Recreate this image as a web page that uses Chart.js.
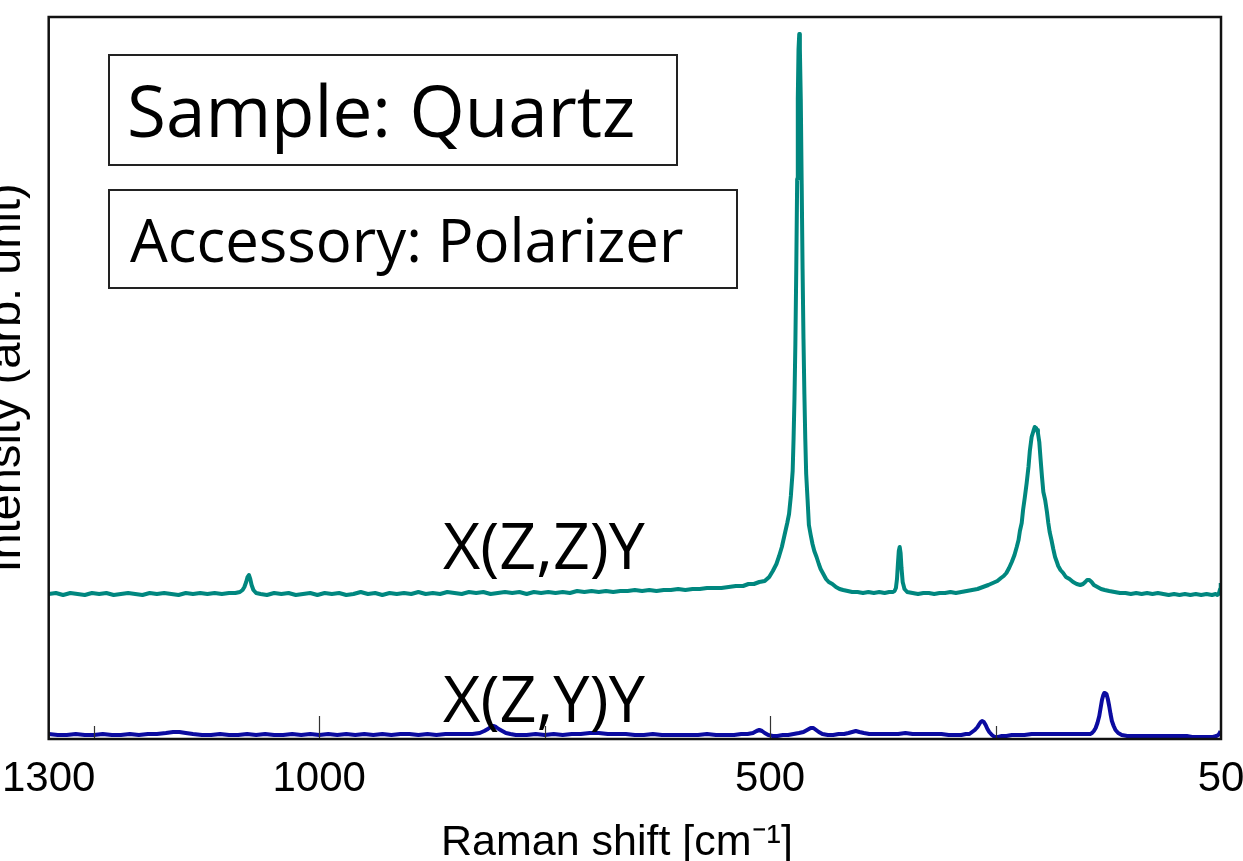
<!DOCTYPE html>
<html><head><meta charset="utf-8">
<script src="https://cdn.jsdelivr.net/npm/chart.js@4.4.1/dist/chart.umd.min.js"></script>
<style>
html,body{margin:0;padding:0;width:1243px;height:861px;overflow:hidden;background:#fff;}
#wrap{position:absolute;left:-31px;top:0;width:1311px;height:861px;}
</style></head><body>
<div id="wrap"><canvas id="c" width="1311" height="861"></canvas></div>
<script>
// ---------- DATA ----------
const zzShift = [1300,1292,1284,1276,1268,1260,1252,1244,1236,1228,1220,1212,1204,1196,1188,1180,1172,1164,1156,1148,1140,1132,1124,1116,1108,1100,1093,1088,1085,1083,1081,1079.5,1078,1076.5,1075,1073,1070,1065,1058,1050,1042,1034,1026,1018,1010,1002,994,986,978,970,962,954,946,938,930,922,914,906,898,890,882,874,866,858,850,842,834,826,818,810,802,794,786,778,770,762,754,746,738,730,722,714,706,698,690,682,674,666,658,650,642,634,626,618,610,602,594,586,578,570,562,554,546,538,530,524,518,512,506,501,497,493,490,487,484,481,479,477,475,474,473,472,471,470,469.3,468.5,467.7,467,466,465,464,463,462,461,460,458.5,457,455,453,451,448.5,446,444,441,438,435,431,427,423,419,414,409,403,397,391,385,379,373,368,364,362,360.5,359.3,358.3,357.3,356.3,355.3,354.3,353,351,348,342,336,330,324,318,312,306,300,294,288,282,276,270,264,258,253,248,244,241,238,235,232,229,226.5,224.5,223,221,219.5,217.5,215.5,213.5,212,210,208,206.5,205,204,203,201.5,200,198.5,197,195,193,191.5,190,188,186,184,182,180.5,178,175,172,168,164,160,156,153,150.5,148.5,146,143.5,141,137,133,129,124,118,112,106,100,94,88,82,76,70,64,58,52,46,40,34,28,22,16,10,6,4,2.5,1,0.3];
const zzIntensity = [145,146,144,146,145,144,146,145,146,144,145,146,145,144,146,145,146,145,144,146,145,146,145,146,145,146,146,147,149,152,157,162,164,160,154,149,146,145,144,146,145,146,144,145,146,144,146,145,146,144,145,147,145,146,144,146,145,146,145,147,145,146,145,147,146,145,147,146,147,145,146,147,146,147,145,147,146,147,146,147,146,148,147,148,147,148,147,148,148,149,148,149,148,149,149,150,149,150,150,151,151,151,152,153,153,155,155,157,158,162,168,175,183,192,204,216,225,243,268,300,340,395,470,560,640,690,705,690,640,555,470,400,345,300,265,240,214,204,195,188,182,175,170,165,160,157,155,152,150,149,148,147,147,146,147,146,147,146,147,147,148,151,160,175,188,192,186,171,157,150,147,146,145,146,146,145,146,146,147,146,147,148,149,150,152,154,156,158,161,163,166,171,177,184,192,199,208,216,229,242,256,272,288,302,308,312,311,309,306,297,279,262,247,239,227,216,207,199,190,182,177,173,169,166,162,160,157,155,154,155,157,159,159,157,154,152,150,149,148,147,146,146,145,146,145,146,145,146,145,144,145,144,145,144,145,144,145,144,145,144,145,150,156,158];

const zyShift = [1300,1290,1280,1270,1260,1250,1240,1230,1220,1210,1200,1190,1180,1170,1162,1155,1148,1140,1130,1120,1110,1100,1090,1080,1070,1060,1050,1040,1030,1020,1010,1000,990,980,970,960,950,940,930,920,910,900,890,880,870,860,850,840,830,822,817,813,810,807,804,801,797,793,788,782,776,770,760,750,740,730,720,710,700,690,680,670,660,650,640,630,620,610,600,590,580,570,560,550,540,532,525,519,515,512,509,506,502,497,492,486,480,474,468,463,459,455,452,449,446,442,436,430,424,418,413,409,405,401,396,390,382,374,366,358,350,342,334,326,318,310,302,294,288,283,279,276,273,270,268,266.5,265,263,261,259,257,254,251,247,243,238,232,225,218,210,202,195,188,180,172,165,158,152,148,145,143,141,139,137,135,133.5,132,130.5,129.5,128.5,127,125.5,124,122.5,121,119,117,114,110,104,98,92,86,80,74,68,62,56,50,44,38,32,26,20,14,9,5,3,1.5,0.5];
const zyIntensity = [5,4,4,5,4,4,5,4,4,5,4,5,5,6,7,7,6,5,4,4,5,4,4,5,4,5,4,4,5,4,5,4,5,4,5,4,5,4,5,4,5,5,4,5,4,5,5,5,5,6,8,10,12,13,12,10,8,6,5,4,4,4,5,4,5,4,5,5,6,6,5,5,5,4,4,5,4,4,4,4,4,5,4,4,4,5,5,6,8,9,8,6,4,3,3,4,4,5,6,7,9,11,11,9,7,5,4,4,5,5,6,7,8,7,6,5,5,5,5,5,6,5,5,5,5,5,4,4,4,5,5,7,9,12,15,17,18,17,14,10,7,4,2,2,3,3,4,4,4,5,5,5,5,5,5,5,5,5,5,5,6,8,11,16,23,31,39,44,46,46,45,40,33,25,18,13,9,6,4,3,3,3,3,3,3,3,3,3,3,3,3,2,2,2,2,2,3,4,6,8,10];

const seriesLabels = ['X(Z,Z)Y', 'X(Z,Y)Y'];
const xTickValues = [1300, 1000, 500, 0];
const xTickLabels = ['1300', '1000', '500', '50'];
const majorTickValues = [1000, 500];
const minorTickValues = [1250, 750, 250];
const xTitle = 'Raman shift [cm\u207B\u00B9]\u00A0\u00A0\u00A0';
const yTitle = 'Intensity (arb. unit)';
const annotations = ['Sample: Quartz', 'Accessory: Polarizer'];

// ---------- CHART ----------
const SHIFT = 31;
const toPts = (xs, ys) => xs.map((v, i) => ({x: v, y: ys[i]}));

function fitText(ctx, txt, left, baseline, inkWidth, family) {
  ctx.font = '100px ' + family;
  const m = ctx.measureText(txt);
  const w = m.actualBoundingBoxRight + m.actualBoundingBoxLeft;
  const size = 100 * inkWidth / w;
  ctx.font = size.toFixed(2) + 'px ' + family;
  const m2 = ctx.measureText(txt);
  ctx.fillStyle = '#000';
  ctx.textAlign = 'left';
  ctx.textBaseline = 'alphabetic';
  ctx.fillText(txt, left + m2.actualBoundingBoxLeft, baseline);
}

const decor = {
  id: 'decor',
  afterDatasetsDraw(chart) {
    const {ctx, chartArea: a, scales: {x}} = chart;
    ctx.save();
    ctx.strokeStyle = '#333';
    ctx.lineWidth = 1.2;
    ctx.beginPath();
    majorTickValues.forEach(v => { const p = Math.round(x.getPixelForValue(v)) + 0.5; ctx.moveTo(p, a.bottom); ctx.lineTo(p, a.bottom - 23); });
    minorTickValues.forEach(v => { const p = Math.round(x.getPixelForValue(v)) + 0.5; ctx.moveTo(p, a.bottom); ctx.lineTo(p, a.bottom - 13); });
    ctx.stroke();
    ctx.strokeStyle = '#111';
    ctx.lineWidth = 2.5;
    ctx.strokeRect(a.left, a.top, a.right - a.left, a.bottom - a.top);
    ctx.strokeStyle = '#222';
    ctx.lineWidth = 2;
    ctx.strokeRect(109 + SHIFT, 55, 568, 110);
    ctx.strokeRect(109 + SHIFT, 190, 628, 98);
    const fam = '"Open Sans", "Noto Sans", sans-serif';
    fitText(ctx, annotations[0], 130 + SHIFT, 137, 502, fam);
    fitText(ctx, annotations[1], 130 + SHIFT, 262, 553, fam);
    fitText(ctx, seriesLabels[0], 443 + SHIFT, 569, 202, fam);
    fitText(ctx, seriesLabels[1], 443 + SHIFT, 722, 202, fam);
    ctx.restore();
  }
};

new Chart(document.getElementById('c'), {
  type: 'line',
  data: {
    datasets: [
      {label: seriesLabels[0], data: toPts(zzShift, zzIntensity), borderColor: '#00877f', borderWidth: 4, borderJoinStyle: 'round', pointRadius: 0, tension: 0, fill: false},
      {label: seriesLabels[1], data: toPts(zyShift, zyIntensity), borderColor: '#0b0ba0', borderWidth: 4, borderJoinStyle: 'round', pointRadius: 0, tension: 0, fill: false}
    ]
  },
  options: {
    responsive: false,
    animation: false,
    events: [],
    layout: {padding: {top: 17, left: 0, right: 59, bottom: 0}},
    plugins: {legend: {display: false}, tooltip: {enabled: false}},
    scales: {
      x: {
        type: 'linear', min: 0, max: 1300, reverse: true,
        grid: {display: false, drawTicks: false},
        border: {display: false},
        afterBuildTicks: (s) => { s.ticks = xTickValues.map(v => ({value: v})); },
        afterFit: (s) => { s.height = 122; },
        ticks: {
          autoSkip: false, maxRotation: 0, padding: 15, color: '#000',
          font: {family: '"Liberation Sans", Arial, sans-serif', size: 42},
          callback: (v) => { const i = xTickValues.indexOf(v); return i >= 0 ? xTickLabels[i] : ''; }
        },
        title: {display: true, text: xTitle, color: '#000', padding: {top: 0, bottom: 0},
          font: {family: '"Liberation Sans", Arial, sans-serif', size: 43, lineHeight: 0.85}}
      },
      y: {
        min: 0, max: 722,
        grid: {display: false, drawTicks: false},
        border: {display: false},
        ticks: {display: false},
        afterFit: (s) => { s.width = 79.7; },
        title: {display: true, text: yTitle, color: '#000', padding: {top: 10, bottom: 0},
          font: {family: '"Liberation Sans", Arial, sans-serif', size: 47, lineHeight: 1.2}}
      }
    }
  },
  plugins: [decor]
});
</script>
</body></html>
